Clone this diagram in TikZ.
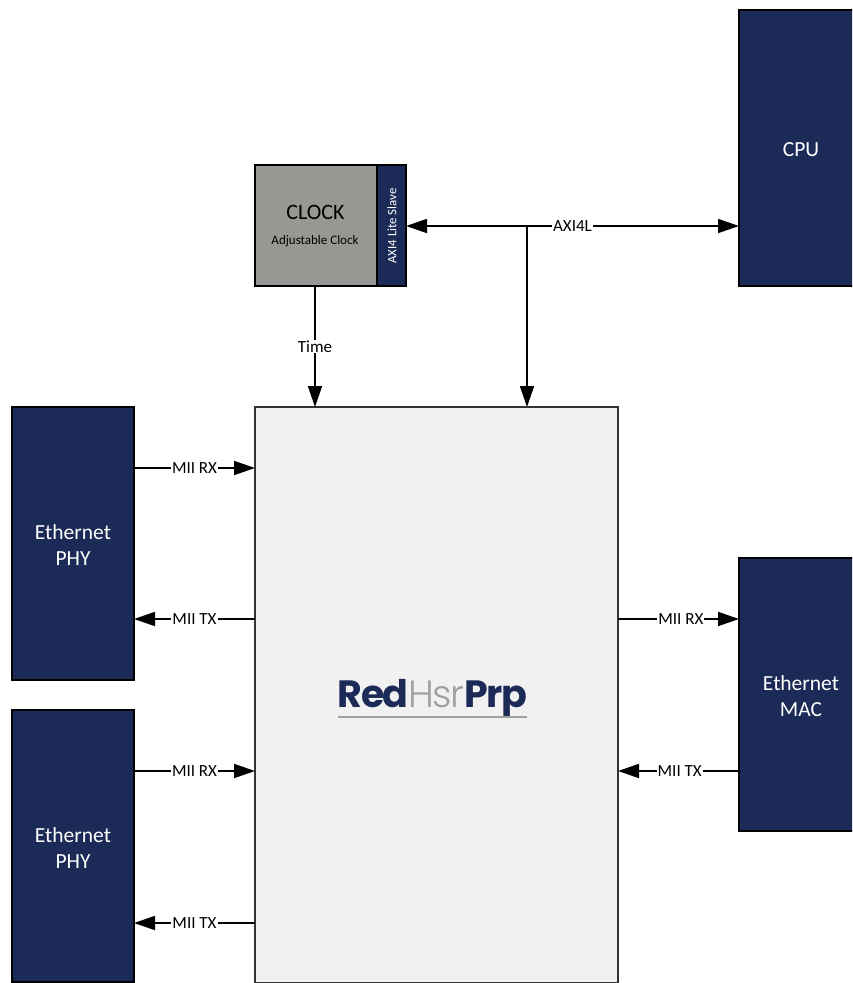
\documentclass[tikz,border=0pt]{standalone}
\usepackage{fontspec}
\setmainfont{Carlito}
\newfontfamily\logofont{Poppins}
\newfontfamily\logolight{Poppins Light}
\usetikzlibrary{arrows.meta}
\definecolor{navy}{RGB}{27,42,86}
\definecolor{clockgray}{RGB}{153,151,147}
\definecolor{mainfill}{RGB}{241,241,241}
\definecolor{logogray}{RGB}{160,160,160}
\newcommand{\lowtxt}[1]{\raisebox{-2pt}[\height][\depth]{#1}}
\tikzset{
  x=1pt,y=-1pt,
  box/.style={draw=black,line width=1.7pt,anchor=north west,inner sep=0pt,outer sep=0pt,align=center},
  navybox/.style={box,fill=navy,text=white,font=\fontsize{21.5}{26}\selectfont},
  link/.style={line width=1.8pt,-{Triangle[length=21pt,width=14pt]}},
  biglink/.style={line width=1.8pt,{Triangle[length=21pt,width=14pt]}-{Triangle[length=21pt,width=14pt]}},
  lbl/.style={fill=white,inner sep=1pt,font=\fontsize{17}{19}\selectfont},
}
\begin{document}
\begin{tikzpicture}
\useasboundingbox (0,0) rectangle (852,983);
\begin{scope}
\clip (0,0) rectangle (852,983);
\node[navybox,minimum width=124pt,minimum height=276pt] (cpu) at (739,10) {\lowtxt{CPU}};
\node[box,fill=clockgray,minimum width=122pt,minimum height=121pt] (clock) at (255,165) {};
\node[box,fill=navy,minimum width=29pt,minimum height=121pt] (slave) at (377,165) {};
\node[box,fill=mainfill,draw=black!80,line width=1.2pt,minimum width=363pt,minimum height=575.5pt] (main) at (255,407) {};
\node[navybox,minimum width=122pt,minimum height=273pt] (phya) at (12,407) {\lowtxt{Ethernet}\\\lowtxt{PHY}};
\node[navybox,minimum width=122pt,minimum height=272pt] (phyb) at (12,710) {\lowtxt{Ethernet}\\\lowtxt{PHY}};
\node[navybox,minimum width=124pt,minimum height=273pt] (mac) at (739,558) {\lowtxt{Ethernet}\\\lowtxt{MAC}};
\end{scope}
\node[font=\fontsize{22}{26}\selectfont] (clocktitle) at (315.5,212) {CLOCK};
\node[font=\fontsize{13}{15}\selectfont] (clocksub) at (315,241) {Adjustable Clock};
\node[rotate=90,text=white,font=\fontsize{12.8}{14}\selectfont] (slavetext) at (392,226) {AXI4 Lite Slave};
\coordinate (busjoin) at (527,226);
\coordinate (timeout) at (315,286);
\coordinate (timein) at (315,407);
\draw[biglink] (slave.east |- busjoin) -- node[lbl,pos=0.5] (axil) {AXI4L} (cpu.west |- busjoin);
\draw[link] (busjoin) -- (busjoin |- main.north);
\draw[link] (timeout) -- node[lbl,pos=0.5] (timelbl) {Time} (timein);
\coordinate (a1) at (134,468); \coordinate (a2) at (134,619);
\coordinate (b1) at (134,771); \coordinate (b2) at (134,923);
\coordinate (m1) at (739,619); \coordinate (m2) at (739,771);
\draw[link] (a1) -- node[lbl,pos=0.5] (l1) {MII RX} (a1 -| main.west);
\draw[link] (a2 -| main.west) -- node[lbl,pos=0.5] (l2) {MII TX} (a2);
\draw[link] (b1) -- node[lbl,pos=0.5] (l3) {MII RX} (b1 -| main.west);
\draw[link] (b2 -| main.west) -- node[lbl,pos=0.5] (l4) {MII TX} (b2);
\draw[link] (m1 -| main.east) -- node[lbl,pos=0.52] (l5) {MII RX} (m1);
\draw[link] (m2) -- node[lbl,pos=0.49] (l6) {MII TX} (m2 -| main.east);
\node[anchor=base,inner sep=0pt,font=\fontsize{38}{40}\selectfont] (logo) at (432.5,707)
  {\textcolor{navy}{\logofont\bfseries\addfontfeature{LetterSpace=-4}Red}\textcolor{logogray}{\logolight\addfontfeature{LetterSpace=-4}Hsr}\textcolor{navy}{\logofont\bfseries\addfontfeature{LetterSpace=-4}Prp}};
\coordinate (ulL) at (338,716.5); \coordinate (ulR) at (527,716.5);
\draw[logogray,line width=2pt] (ulL) -- (ulR);
\end{tikzpicture}
\end{document}
